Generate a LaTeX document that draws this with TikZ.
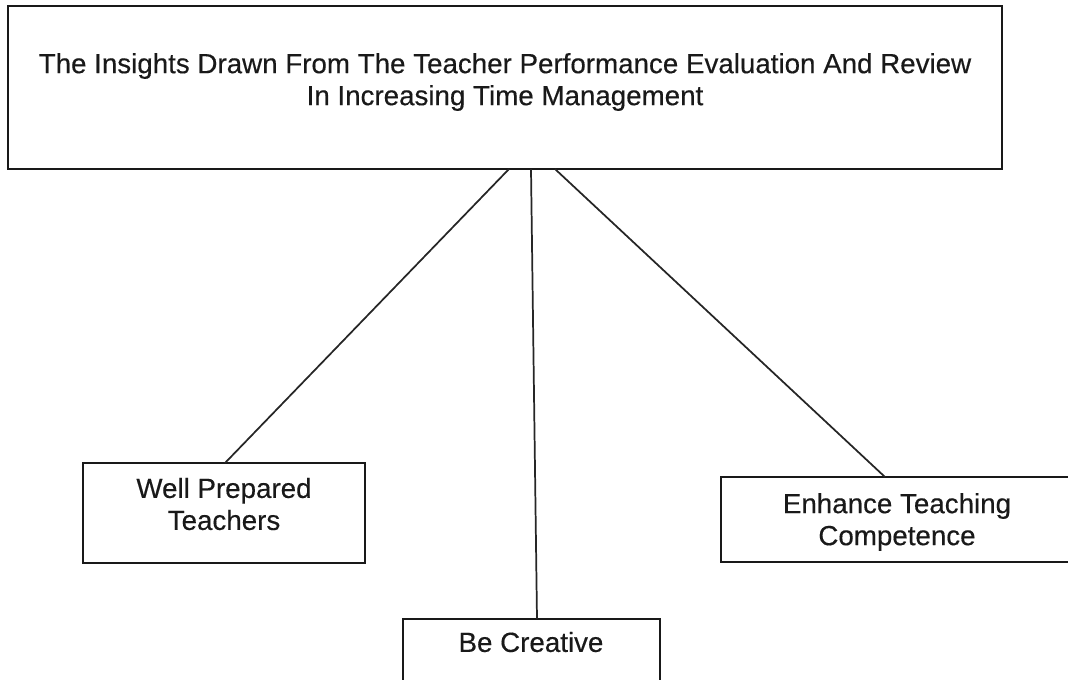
\documentclass[tikz,border=0pt]{standalone}
\usepackage{fontspec}
\setmainfont{Liberation Sans}

\begin{document}
\begin{tikzpicture}[x=0.75pt,y=-0.75pt,
    box/.style={draw=black!90,line width=1.6pt},
    link/.style={draw=black!85,line width=1.3pt},
    lbl/.style={font=\fontsize{20.8}{24}\selectfont\addfontfeatures{FakeBold=0.35},text=black!90,align=center,inner sep=0pt}]
    \useasboundingbox (0,0) rectangle (1068,679);
    \clip (0,0) rectangle (1068,679);

    % Define corners of the boxes
    \coordinate (T1) at (8,6);
    \coordinate (T2) at (1002,169);
    \coordinate (W1) at (83,463);
    \coordinate (W2) at (365,563);
    \coordinate (C1) at (403,619);
    \coordinate (C2) at (660,700);
    \coordinate (E1) at (721,477);
    \coordinate (E2) at (1073,562);

    % Line ends
    \coordinate (a1) at (509,169);
    \coordinate (a2) at (531,169);
    \coordinate (a3) at (555,169);
    \coordinate (b1) at (225,463);
    \coordinate (b2) at (537,619);
    \coordinate (b3) at (885,477);

    % Draw boxes
    \draw[box] (T1) rectangle (T2);
    \draw[box] (W1) rectangle (W2);
    \draw[box] (C1) rectangle (C2);
    \draw[box] (E1) rectangle (E2);

    % Labels
    \node[lbl] (insights) at (505,82) {The Insights Drawn From The Teacher Performance Evaluation And Review\\In Increasing Time Management};
    \node[lbl] (prepared) at (224,504) {Well Prepared\\Teachers};
    \node[lbl] (creative) at (531,642) {Be Creative};
    \node[lbl] (competence) at (897,522) {Enhance Teaching\\Competence};

    % Draw links
    \draw[link] (a1) -- (b1);
    \draw[link] (a2) -- (b2);
    \draw[link] (a3) -- (b3);
\end{tikzpicture}
\end{document}
